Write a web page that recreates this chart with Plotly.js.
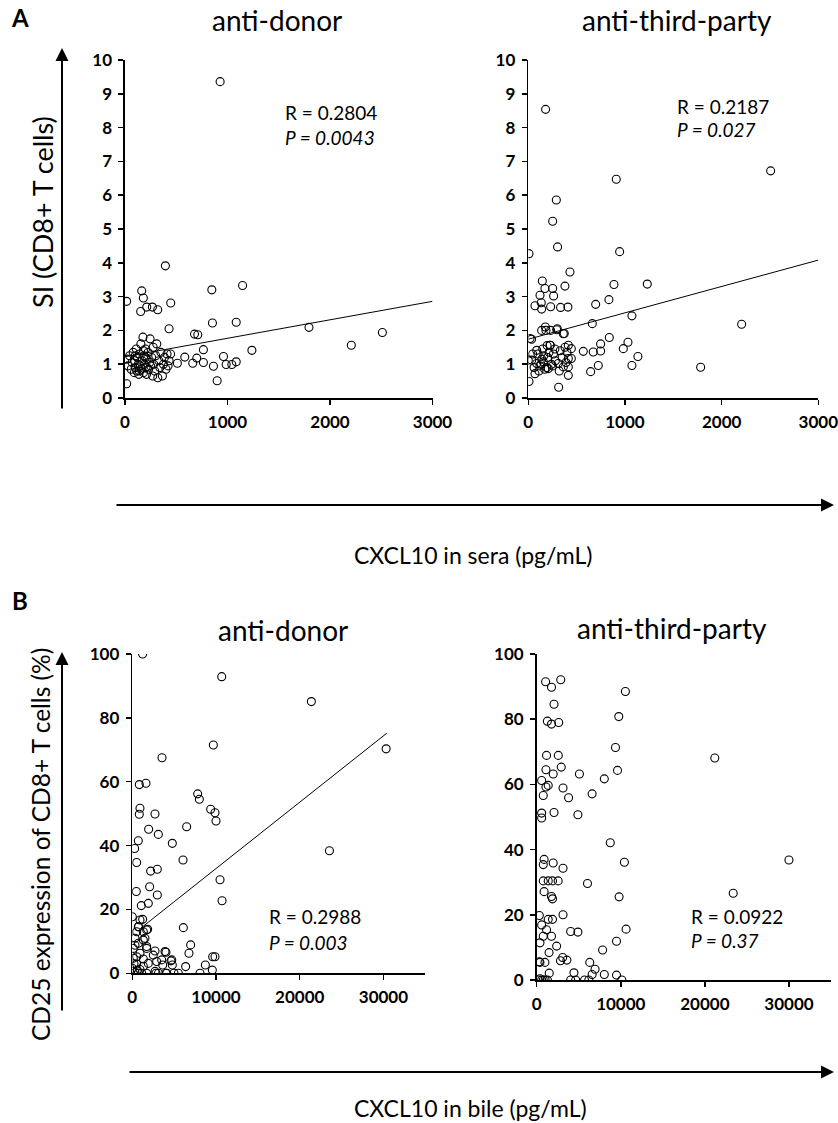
<!DOCTYPE html>
<html><head><meta charset="utf-8">
<script src="https://cdn.plot.ly/plotly-3.0.1.min.js"></script>
<style>body{margin:0;background:#fff}#chart{width:838px;height:1123px}</style>
</head><body><div id="chart"></div>
<script>
// Panel A left: CXCL10 in sera vs SI, anti-donor
const seraDonorX = [928,394,163,179,16,446,847,1147,153,212,267,319,430,853,1085,1795,2511,2208,678,710,765,1238,961,1085,1042,987,863,899,765,700,661,583,511,16,
 20,30,45,60,70,80,90,95,100,110,115,120,130,135,140,150,155,160,165,175,180,185,190,200,205,210,215,225,230,240,245,250,260,270,275,280,290,300,310,320,330,340,350,365,375,385,400,410,420,430,445,200,180,100,140];
const seraDonorY = [9.36,3.91,3.17,2.96,2.86,2.81,3.20,3.33,2.56,2.69,2.69,2.61,2.05,2.22,2.24,2.09,1.94,1.56,1.89,1.87,1.43,1.41,1.23,1.07,0.99,0.99,0.94,0.51,1.05,1.18,1.03,1.21,1.03,0.42,
 1.15,0.95,1.25,0.85,1.05,1.35,0.75,1.1,0.9,1.45,0.8,1.2,1.0,0.7,1.3,0.95,1.6,0.85,1.1,1.8,0.75,1.25,1.0,1.45,0.9,0.7,1.15,1.35,0.85,1.05,1.75,0.95,1.2,0.65,1.5,1.0,0.8,1.25,1.6,0.6,1.1,0.9,1.35,0.65,1.0,1.2,0.85,1.3,0.95,1.1,1.3,1.2,1.4,1.25,0.8];
const seraDonorFitX = [0,3000];
const seraDonorFitY = [1.22,2.86];

// Panel A right: anti-third-party
const seraThirdX = [179,2507,910,290,252,303,7,945,431,145,172,252,379,121,262,69,134,138,231,334,410,886,1231,834,697,662,1072,2207,838,748,1031,983,569,672,748,1134,1072,724,645,1783,314,7,34,
 176,138,231,300,372,228,183,294,362,224,414,445,414,445,414,414,362,310,207,155,87,35,0,69,87,18,
 100,120,140,160,190,200,240,260,280,330,350,390,60,45,110,130,170,215,250,275,320,380,400,150,195];
const seraThirdY = [8.54,6.72,6.47,5.86,5.23,4.47,4.27,4.33,3.73,3.46,3.24,3.24,3.31,3.04,3.02,2.73,2.82,2.63,2.70,2.68,2.69,3.36,3.37,2.91,2.77,2.20,2.43,2.18,1.79,1.60,1.65,1.46,1.38,1.36,1.39,1.23,0.96,0.96,0.78,0.91,0.32,0.49,1.74,
 2.10,2.00,2.00,2.05,1.91,1.56,2.0,2.02,1.90,1.56,1.56,1.46,1.17,1.17,0.92,0.67,0.92,1.02,0.87,1.07,1.02,1.12,1.12,0.72,1.41,1.76,
 1.3,0.95,1.15,1.25,0.9,1.2,1.0,1.3,1.1,1.4,1.2,1.05,0.9,1.3,0.8,1.0,0.85,1.35,0.95,1.45,0.8,1.5,1.35,1.45,1.55];
const seraThirdFitX = [0,3000];
const seraThirdFitY = [1.74,4.08];

// Panel B left: CXCL10 in bile vs CD25 %, anti-donor
const bileDonorX = [1235,10680,21390,30320,9680,3550,837,1633,7810,8010,916,837,2710,9360,9880,10000,1952,3110,6490,4780,717,279,518,6060,23550,2190,2990,2070,10480,478,2990,10720,1076,1912,0,1235,757,1833,6100,6970,6770,9600,9880,8730,9560,8090,6370,5500,4980,4020,2830,4620,4780,4020,3630,2910,2710,2510,1713,1315,
 920,717,1720,1320,320,1510,717,120,1720,920,120,1320,1910,520,0,920,320,1120,1720,2720,3120,4120,720,1320,520,320,520,3910,4710,3510,200,600];
const bileDonorY = [100,92.9,85.1,70.3,71.5,67.5,59.1,59.5,56.2,54.5,51.7,49.8,49.9,51.4,50.3,47.7,45.1,43.5,45.9,40.7,41.5,39.1,34.7,35.5,38.4,32.0,32.6,27.1,29.3,25.6,24.5,22.7,21.2,21.9,17.7,16.9,14.6,13.8,14.3,8.9,6.3,5.2,5.2,2.6,1.0,0,2.1,0,0,0,0,3.9,2.6,6.6,2.6,3.7,7.0,5.7,8.4,10.4,
 16.7,14.6,13.6,13.0,11.0,11.0,9.4,7.8,7.8,6.3,4.7,4.5,3.1,2.9,1.6,1.2,0.2,0,0,0.6,0,0,0,2.2,5.2,8.8,13.0,6.8,4.2,4.2,3.0,1.0];
const bileDonorFitX = [1000,30400];
const bileDonorFitY = [14.1,75.2];

// Panel B right: anti-third-party
const bileThirdX = [1060,2860,1760,2060,10550,1270,1760,2620,9760,9370,1170,2570,21180,1100,2920,1960,5080,9610,8040,590,1370,1100,780,3130,3790,6590,2060,590,590,4900,8750,
 780,880,1960,3130,10430,30000,780,1370,1880,2550,880,6040,1880,1760,9800,23370,310,1370,1880,3130,590,1170,780,1760,390,4040,4900,10630,9490,7840,2370,1470,390,980,2830,3090,3590,6310,6940,6590,4430,8040,9490,1490,
 390,780,1270,590,4040,4630,5690,6200,10120,200,1000,300];
const bileThirdY = [91.5,92.1,89.8,84.6,88.5,79.4,78.5,79.0,80.8,71.3,68.9,68.9,68.1,64.5,65.3,63.2,63.2,64.3,61.7,61.2,59.7,59.2,56.6,58.9,55.9,57.1,51.4,51.2,49.7,50.7,42.1,
 35.4,37.0,35.9,34.3,36.1,36.8,30.4,30.4,30.4,30.4,27.1,29.6,24.9,25.6,25.5,26.6,19.8,18.6,18.6,20.0,16.9,15.4,13.4,13.4,11.4,14.9,14.7,15.6,11.9,9.2,10.4,8.4,5.4,5.4,5.9,6.9,6.1,5.4,3.3,1.7,2.2,1.7,1.5,2.1,
 0.4,0,0,0,0,0,0,0,0,0,0,5.6];

const W = 838, H = 1123;
const px = v => v / W;
const py = v => 1 - v / H;
const FONT = 'Lato, "Open Sans", sans-serif';

const mk = {symbol:'circle-open', size:8, color:'#000', line:{width:1.1, color:'#000'}};
const pts = (x, y, xa, ya) => ({type:'scatter', mode:'markers', x:x, y:y, xaxis:xa, yaxis:ya, marker:mk, hoverinfo:'skip'});
const fit = (x, y, xa, ya) => ({type:'scatter', mode:'lines', x:x, y:y, xaxis:xa, yaxis:ya, line:{color:'#000', width:1}, hoverinfo:'skip'});

const data = [
  pts(seraDonorX, seraDonorY, 'x', 'y'), fit(seraDonorFitX, seraDonorFitY, 'x', 'y'),
  pts(seraThirdX, seraThirdY, 'x2', 'y2'), fit(seraThirdFitX, seraThirdFitY, 'x2', 'y2'),
  pts(bileDonorX, bileDonorY, 'x3', 'y3'), fit(bileDonorFitX, bileDonorFitY, 'x3', 'y3'),
  pts(bileThirdX, bileThirdY, 'x4', 'y4')
];

const ax = (o) => Object.assign({
  showline:true, linecolor:'#000', linewidth:1.6, ticks:'outside', ticklen:5, tickwidth:1.5, tickcolor:'#000',
  showgrid:false, zeroline:false, fixedrange:true, tickformat:'d', ticklabelstandoff:3, ticklabeloverflow:'allow',
  tickfont:{family:FONT, size:17, color:'#000', weight:'bold'}
}, o);

const ann = [];
const txt = (text, x, y, size, opts) => ann.push(Object.assign({text:text, xref:'paper', yref:'paper', x:px(x), y:py(y), showarrow:false,
  font:{family:FONT, size:size, color:'#000'}, xanchor:'center', yanchor:'middle'}, opts||{}));
const arrow = (hx, hy, tx, ty) => ann.push({text:'', xref:'paper', yref:'paper', x:px(hx), y:py(hy), ax:tx-hx, ay:ty-hy,
  showarrow:true, arrowhead:2, arrowsize:1.3, arrowwidth:2, arrowcolor:'#000'});

txt('<b>A</b>', 20, 18, 24);
txt('<b>B</b>', 20, 600, 24);
txt('anti-donor', 277, 20, 28);
txt('anti-third-party', 677, 20, 28);
txt('anti-donor', 283, 630, 28);
txt('anti-third-party', 672, 628, 28);
txt('R = 0.2804', 283, 112, 19, {xanchor:'left'});
txt('<i>P = 0.0043</i>', 283, 138, 19, {xanchor:'left'});
txt('R = 0.2187', 675, 106, 19, {xanchor:'left'});
txt('<i>P = 0.027</i>', 675, 130, 19, {xanchor:'left'});
txt('R = 0.2988', 267, 916, 19, {xanchor:'left'});
txt('<i>P = 0.003</i>', 267, 942, 19, {xanchor:'left'});
txt('R = 0.0922', 689, 916, 19, {xanchor:'left'});
txt('<i>P = 0.37</i>', 689, 940, 19, {xanchor:'left'});
txt('SI (CD8+ T cells)', 42, 212, 27, {textangle:-90});
txt('CXCL10 in sera (pg/mL)', 473, 555, 23);
txt('CD25 expression of CD8+ T cells (%)', 40, 845, 24.5, {textangle:-90});
txt('CXCL10 in bile (pg/mL)', 470, 1108, 23);
arrow(62, 48, 62, 410);
arrow(834, 505, 115, 505);
arrow(62, 652, 62, 1012);
arrow(834, 1072, 128, 1072);

const layout = {
  width:W, height:H, margin:{l:0,r:0,t:0,b:0}, showlegend:false,
  paper_bgcolor:'#fff', plot_bgcolor:'#fff',
  xaxis: ax({domain:[px(125), px(432.5)], range:[0,3000], dtick:1000, tick0:0, anchor:'y'}),
  yaxis: ax({domain:[py(398), py(60)], range:[0,10], dtick:1, tick0:0, anchor:'x'}),
  xaxis2: ax({domain:[px(528.3), px(818.3)], range:[0,3000], dtick:1000, tick0:0, anchor:'y2'}),
  yaxis2: ax({domain:[py(398), py(60)], range:[0,10], dtick:1, tick0:0, anchor:'x2'}),
  xaxis3: ax({domain:[px(132.3), px(425.3)], range:[0,35000], dtick:10000, tick0:0, anchor:'y3'}),
  yaxis3: ax({domain:[py(973.3), py(654)], range:[0,100], dtick:20, tick0:0, anchor:'x3'}),
  xaxis4: ax({domain:[px(536.7), px(831)], range:[0,35000], dtick:10000, tick0:0, anchor:'y4'}),
  yaxis4: ax({domain:[py(980), py(654)], range:[0,100], dtick:20, tick0:0, anchor:'x4'}),
  annotations: ann
};

Plotly.newPlot('chart', data, layout, {staticPlot:true, displayModeBar:false});
</script>
</body></html>
